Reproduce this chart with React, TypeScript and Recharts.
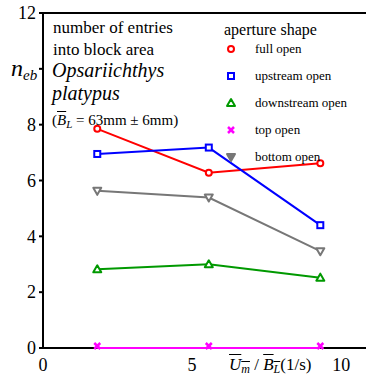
import { LineChart, Line, XAxis, YAxis, ReferenceLine } from "recharts";

const xValues = [1.82, 5.56, 9.3];
const fullOpen = [7.85, 6.28, 6.62];
const upstreamOpen = [6.95, 7.18, 4.4];
const downstreamOpen = [2.82, 3.0, 2.52];
const topOpen = [0, 0, 0];
const bottomOpen = [5.63, 5.39, 3.47];

const yTicks = [0, 2, 4, 6, 8, 10, 12];
const xTicks = [0, 5, 10];

const series = [
  { key: "full", name: "full open", color: "#ff0000", shape: "circle", values: fullOpen },
  { key: "up", name: "upstream open", color: "#0000ff", shape: "square", values: upstreamOpen },
  { key: "down", name: "downstream open", color: "#009900", shape: "triUp", values: downstreamOpen },
  { key: "top", name: "top open", color: "#ff00ff", shape: "cross", values: topOpen },
  { key: "bottom", name: "bottom open", color: "#777777", shape: "triDown", values: bottomOpen },
];

const data = xValues.map((x, i) => {
  const row: any = { x };
  series.forEach((s) => (row[s.key] = s.values[i]));
  return row;
});

const serif = "'Liberation Serif'";

function Marker({ shape, color, cx, cy, filled }: any) {
  if (cx == null || cy == null) return null;
  const sw = 2;
  const fill = filled ? color : "#fff";
  if (shape === "circle") return <circle cx={cx} cy={cy} r={3} stroke={color} strokeWidth={sw} fill={fill} />;
  if (shape === "square")
    return <rect x={cx - 3} y={cy - 3} width={6} height={6} stroke={color} strokeWidth={sw} fill={fill} />;
  if (shape === "triUp")
    return (
      <polygon
        points={`${cx},${cy - 4} ${cx - 4},${cy + 3} ${cx + 4},${cy + 3}`}
        stroke={color}
        strokeWidth={sw}
        fill={fill}
        strokeLinejoin="round"
      />
    );
  if (shape === "triDown")
    return (
      <polygon
        points={`${cx},${cy + 4} ${cx - 4},${cy - 3} ${cx + 4},${cy - 3}`}
        stroke={color}
        strokeWidth={sw}
        fill={fill}
        strokeLinejoin="round"
      />
    );
  return (
    <g stroke={color} strokeWidth={2.5}>
      <line x1={cx - 3} y1={cy - 5} x2={cx + 3} y2={cy + 1} />
      <line x1={cx - 3} y1={cy + 1} x2={cx + 3} y2={cy - 5} />
    </g>
  );
}

function YTick({ x, y, payload }: any) {
  if (payload.value === 10) {
    return (
      <text x={11} y={y + 7} style={{ fontFamily: serif }} fontStyle="italic" fill="#000">
        <tspan fontSize={24}>n</tspan>
        <tspan fontSize={15} dy={4}>eb</tspan>
      </text>
    );
  }
  return (
    <text x={x} y={y} dy="0.35em" textAnchor="end" style={{ fontFamily: serif }} fontSize={18} fill="#000">
      {payload.value}
    </text>
  );
}

function XTick({ x, y, payload }: any) {
  return (
    <text x={x} y={y + 15} textAnchor="middle" style={{ fontFamily: serif }} fontSize={18} fill="#000">
      {payload.value}
    </text>
  );
}

const abs = (left: number, top: number, size: number, extra: any = {}) => ({
  position: "absolute" as const,
  left,
  top,
  fontSize: size,
  lineHeight: 1,
  whiteSpace: "nowrap" as const,
  fontFamily: serif,
  ...extra,
});

export default function App() {
  return (
    <div
      style={{
        position: "absolute",
        left: 0,
        top: 0,
        width: 366,
        height: 376,
        overflow: "hidden",
        background: "#fff",
        fontFamily: serif,
      }}
    >
      <LineChart width={371} height={376} data={data} margin={{ top: 13, right: 0, bottom: 0, left: 0 }}>
        <XAxis
          dataKey="x"
          type="number"
          domain={[0, 11]}
          ticks={xTicks}
          tickLine={false}
          axisLine={false}
          tick={<XTick />}
          height={28}
        />
        <YAxis
          type="number"
          domain={[0, 12]}
          ticks={yTicks}
          width={43}
          tickSize={4}
          tickMargin={3}
          tickLine={{ stroke: "#000", strokeWidth: 2 }}
          axisLine={{ stroke: "#000", strokeWidth: 2 }}
          tick={<YTick />}
        />
        <ReferenceLine y={12} stroke="#000" strokeWidth={2} />
        <ReferenceLine y={0} stroke="#000" strokeWidth={2} />
        {series.map((s) => (
          <Line
            key={s.key}
            dataKey={s.key}
            stroke={s.color}
            strokeWidth={2}
            type="linear"
            isAnimationActive={false}
            dot={(p: any) => <Marker key={p.index} shape={s.shape} color={s.color} cx={p.cx} cy={p.cy} />}
            activeDot={false}
          />
        ))}
      </LineChart>
      <svg width={366} height={376} style={{ position: "absolute", left: 0, top: 0, pointerEvents: "none" }}>
        {series.map((s, i) => (
          <Marker
            key={s.key}
            shape={s.shape}
            color={s.color}
            cx={231}
            cy={s.shape === "cross" ? 49 + i * 27 + 2 : 49 + i * 27}
            filled={s.shape === "triDown"}
          />
        ))}
      </svg>
      <div style={abs(53, 19, 17)}>number of entries</div>
      <div style={abs(53, 41, 17)}>into block area</div>
      <div style={abs(52, 60, 20, { fontStyle: "italic" })}>Opsariichthys</div>
      <div style={abs(52, 83, 20, { fontStyle: "italic" })}>platypus</div>
      <div style={abs(52, 113, 15)}>
        (<i style={{ textDecoration: "overline" }}>B</i>
        <sub style={{ fontSize: 11, fontStyle: "italic", verticalAlign: "-3px" }}>L</sub> = 63mm ± 6mm)
      </div>
      <div style={abs(224, 22, 16)}>aperture shape</div>
      {series.map((s, i) => (
        <div key={s.key} style={abs(255, 49 + i * 27 - 7, 13)}>
          {s.name}
        </div>
      ))}
      <div style={abs(229, 356, 17)}>
        <i style={{ textDecoration: "overline" }}>U</i>
        <sub style={{ fontSize: 12, fontStyle: "italic", verticalAlign: "-3px", textDecoration: "overline" }}>m</sub>
        {" / "}
        <i style={{ textDecoration: "overline" }}>B</i>
        <sub style={{ fontSize: 12, fontStyle: "italic", verticalAlign: "-3px", textDecoration: "overline" }}>L</sub>
        (1/s)
      </div>
    </div>
  );
}
